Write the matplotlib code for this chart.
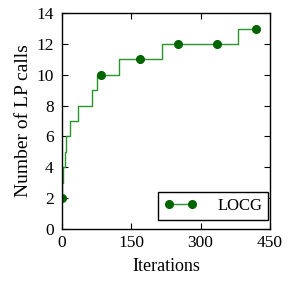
import numpy as np
import matplotlib
matplotlib.use('Agg')
import matplotlib.pyplot as plt

# iteraciones donde cambia el numero de llamadas LP
change_iters = [0, 1, 3, 6, 8, 17, 35, 66, 75, 123, 217, 381]
lp_calls = [2, 3, 4, 5, 6, 7, 8, 9, 10, 11, 12, 13]
last_iter = 420
xticks = [0, 150, 300, 450]
yticks = [0, 2, 4, 6, 8, 10, 12, 14]

# serie escalonada por iteracion
iters = np.arange(0, last_iter + 1)
idx = np.searchsorted(change_iters, iters, side='right') - 1
calls = np.array(lp_calls)[idx]

plt.rcParams['font.family'] = ['Liberation Serif', 'DejaVu Serif']
plt.rcParams['mathtext.fontset'] = 'stix'

fig = plt.figure(figsize=(2.96, 2.91), dpi=100)
ax = fig.add_axes([0.209, 0.213, 0.703, 0.742])

ax.plot(iters, calls, color='#2a952a', lw=1.0, drawstyle='steps-post',
        marker='o', markersize=5.5, markerfacecolor='#006400',
        markeredgecolor='#006400', markevery=84, label='LOCG')

ax.set_xlim(0, 450)
ax.set_ylim(0, 14)
ax.set_xticks(xticks)
ax.set_yticks(yticks)
ax.tick_params(direction='in', top=True, right=True, length=4, width=0.8,
               labelsize=12.5)
ax.tick_params(axis='x', pad=4)
ax.tick_params(axis='y', pad=6)
for s in ax.spines.values():
    s.set_linewidth(1.0)

ax.set_xlabel('Iterations', fontsize=13, labelpad=5)
ax.set_ylabel('Number of LP calls', fontsize=14, labelpad=3)

leg = ax.legend(loc='lower right', bbox_to_anchor=(0.99, 0.042), borderaxespad=0,
                numpoints=2, fontsize=12, fancybox=False, edgecolor='black',
                framealpha=1, handlelength=2.0, handletextpad=1.2,
                borderpad=0.35)
leg.get_frame().set_linewidth(1.0)

plt.savefig('out.png', dpi=100)
